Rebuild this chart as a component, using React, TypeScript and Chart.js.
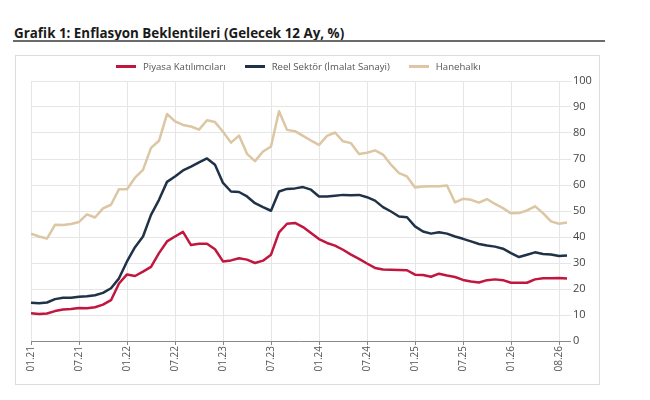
import { useEffect, useRef } from "react";
import { Chart, registerables } from "chart.js";

Chart.register(...registerables);

// monthly observations, 01.21 - 08.26
const months = [
  "01.21", "02.21", "03.21", "04.21", "05.21", "06.21", "07.21", "08.21", "09.21", "10.21", "11.21", "12.21",
  "01.22", "02.22", "03.22", "04.22", "05.22", "06.22", "07.22", "08.22", "09.22", "10.22", "11.22", "12.22",
  "01.23", "02.23", "03.23", "04.23", "05.23", "06.23", "07.23", "08.23", "09.23", "10.23", "11.23", "12.23",
  "01.24", "02.24", "03.24", "04.24", "05.24", "06.24", "07.24", "08.24", "09.24", "10.24", "11.24", "12.24",
  "01.25", "02.25", "03.25", "04.25", "05.25", "06.25", "07.25", "08.25", "09.25", "10.25", "11.25", "12.25",
  "01.26", "02.26", "03.26", "04.26", "05.26", "06.26", "07.26", "08.26",
];

// labels shown on the x axis, one every 6th category
const xTickLabels = [
  "01.21", "07.21", "01.22", "07.22", "01.23", "07.23",
  "01.24", "07.24", "01.25", "07.25", "01.26", "08.26",
];

const piyasa = [
  10.7, 10.4, 10.6, 11.5, 12.1, 12.3, 12.7, 12.6, 13.0, 14.0, 15.7, 22.1,
  25.6, 25.0, 26.7, 28.5, 33.8, 38.3, 40.2, 42.0, 36.9, 37.4, 37.4, 35.3,
  30.6, 31.0, 31.8, 31.3, 30.0, 30.9, 33.2, 41.8, 45.1, 45.4, 43.8, 41.5,
  39.2, 37.7, 36.7, 35.1, 33.2, 31.6, 29.8, 28.1, 27.5, 27.4, 27.3, 27.2,
  25.5, 25.4, 24.7, 25.9, 25.2, 24.6, 23.5, 22.9, 22.5, 23.4, 23.7, 23.4,
  22.4, 22.4, 22.4, 23.7, 24.1, 24.1, 24.2, 24.0,
];

const reelSektor = [
  14.7, 14.5, 14.8, 16.1, 16.6, 16.6, 17.0, 17.2, 17.6, 18.5, 20.3, 24.1,
  30.6, 36.1, 40.2, 48.5, 54.3, 61.2, 63.3, 65.6, 67.1, 68.7, 70.2, 67.8,
  60.8, 57.5, 57.3, 55.6, 53.0, 51.5, 50.1, 57.5, 58.5, 58.7, 59.2, 58.2,
  55.6, 55.6, 55.9, 56.2, 56.1, 56.2, 55.3, 54.0, 51.5, 49.8, 47.9, 47.6,
  44.1, 42.1, 41.3, 41.8, 41.3, 40.2, 39.3, 38.3, 37.3, 36.7, 36.3, 35.5,
  33.8, 32.3, 33.2, 34.1, 33.5, 33.3, 32.7, 32.9,
];

const hanehalki = [
  41.3, 40.2, 39.4, 44.7, 44.6, 45.0, 45.8, 48.7, 47.5, 51.0, 52.4, 58.4,
  58.4, 62.8, 65.8, 74.3, 77.0, 87.3, 84.5, 83.1, 82.5, 81.3, 84.9, 84.2,
  80.5, 76.3, 79.0, 72.0, 69.2, 72.9, 74.8, 88.4, 81.2, 80.7, 78.9, 77.1,
  75.4, 78.9, 80.2, 76.8, 76.1, 71.9, 72.4, 73.3, 71.7, 67.8, 64.6, 63.3,
  59.0, 59.4, 59.5, 59.5, 59.8, 53.3, 54.7, 54.3, 53.2, 54.6, 52.7, 51.1,
  49.1, 49.2, 50.2, 51.8, 49.2, 46.0, 45.1, 45.6,
];

const seriesNames = ["Piyasa Katılımcıları", "Reel Sektör (İmalat Sanayi)", "Hanehalkı"];
const seriesColors = ["#c0163f", "#1f3247", "#dcc6a3"];
const seriesValues = [piyasa, reelSektor, hanehalki];

const FONT = "'Open Sans', 'Noto Sans', sans-serif";

export default function App() {
  const canvasRef = useRef<HTMLCanvasElement | null>(null);

  useEffect(() => {
    if (!canvasRef.current) {
      return;
    }

    const chart = new Chart(canvasRef.current, {
      type: "line",
      data: {
        labels: months,
        datasets: seriesNames.map((name, i) => ({
          label: name,
          data: seriesValues[i],
          borderColor: seriesColors[i],
          backgroundColor: seriesColors[i],
          borderWidth: 2.5,
          pointRadius: 0,
          tension: 0,
          borderJoinStyle: "round" as const,
        })),
      },
      options: {
        animation: false,
        responsive: false,
        layout: { padding: { left: 15, top: 25, right: 0, bottom: 0 } },
        plugins: {
          legend: { display: false },
          tooltip: { enabled: false },
        },
        scales: {
          x: {
            grid: { color: "#e6e6e6", tickColor: "#888", tickLength: 4 },
            border: { color: "#888" },
            ticks: {
              autoSkip: false,
              minRotation: 90,
              maxRotation: 90,
              padding: 1,
              color: "#555",
              font: { family: FONT, size: 10 },
              callback: (_value, index) =>
                index % 6 === 0 && index / 6 < xTickLabels.length ? xTickLabels[index / 6] : null,
            },
            afterFit: (scale) => {
              scale.height = 43;
            },
          },
          y: {
            position: "right",
            min: 0,
            max: 100,
            grid: {
              color: "#e6e6e6",
              tickLength: 4,
              tickColor: (ctx) => (ctx.tick && ctx.tick.value === 0 ? "#888" : "#e6e6e6"),
            },
            border: { display: false },
            ticks: {
              stepSize: 10,
              padding: 2,
              color: "#444",
              font: { family: FONT, size: 11 },
            },
            afterFit: (scale) => {
              scale.width = 32;
            },
          },
        },
      },
    });

    return () => {
      chart.destroy();
    };
  }, []);

  return (
    <div style={{ position: "absolute", left: 0, top: 0, width: 650, height: 400, background: "#fff", fontFamily: FONT }}>
      <div
        style={{
          position: "absolute",
          left: 14,
          top: 24,
          fontSize: 13.4,
          lineHeight: "18px",
          fontWeight: 700,
          color: "#1a1a1a",
          whiteSpace: "nowrap",
        }}
      >
        Grafik 1: Enflasyon Beklentileri (Gelecek 12 Ay, %)
      </div>
      <div style={{ position: "absolute", left: 13, top: 40, width: 592, height: 2, background: "#6b6b6b" }} />
      <div
        style={{
          position: "absolute",
          left: 15,
          top: 55,
          width: 585,
          height: 330,
          boxSizing: "border-box",
          border: "1px solid #dcdcdc",
        }}
      >
        <canvas ref={canvasRef} width={583} height={328} style={{ display: "block" }} />
      </div>
      <div style={{ position: "absolute", left: 116, top: 60, height: 13, display: "flex", alignItems: "center" }}>
        {seriesNames.map((name, i) => (
          <div key={name} style={{ display: "flex", alignItems: "center", marginRight: 19 }}>
            <span style={{ display: "inline-block", width: 20, height: 3, background: seriesColors[i], marginRight: 7 }} />
            <span style={{ fontSize: 9.6, color: "#555", lineHeight: "13px", whiteSpace: "nowrap" }}>{name}</span>
          </div>
        ))}
      </div>
    </div>
  );
}
